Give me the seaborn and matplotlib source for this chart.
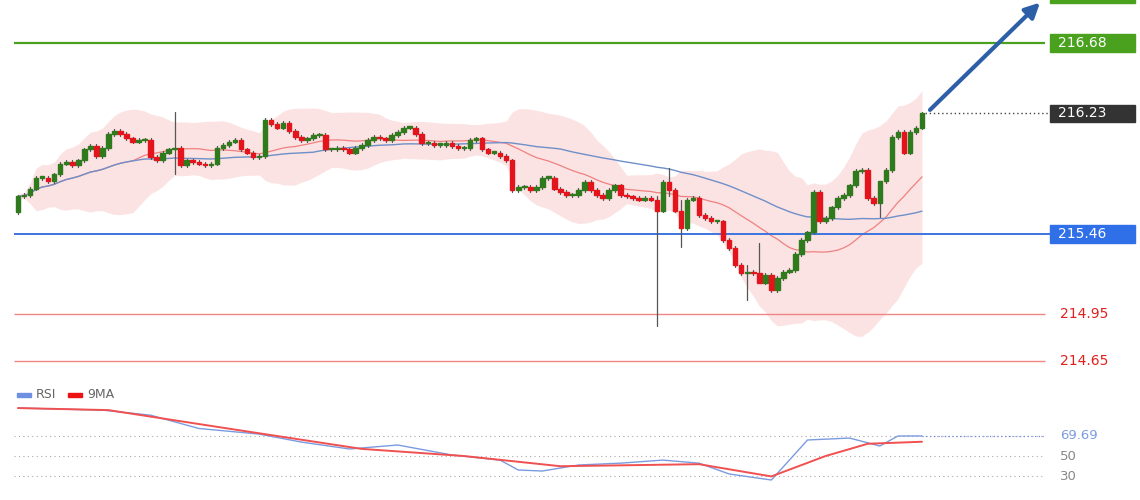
import numpy as np
import pandas as pd
import matplotlib.pyplot as plt
import seaborn as sns
from matplotlib.patches import Rectangle, FancyArrowPatch

sns.set_style('white')
plt.rcParams['font.family'] = ['DejaVu Sans']

# closing prices, one per candle
closes = [215.70, 215.71, 215.75, 215.82, 215.82, 215.80, 215.84, 215.91, 215.92, 215.90,
          215.93, 216.00, 216.02, 215.96, 216.01, 216.10, 216.12, 216.10, 216.07, 216.05,
          216.06, 216.06, 215.95, 215.93, 215.98, 216.00, 216.01, 215.90, 215.93, 215.92,
          215.91, 215.90, 215.91, 216.01, 216.03, 216.05, 216.06, 216.00, 215.98, 215.95,
          215.96, 216.19, 216.16, 216.14, 216.17, 216.12, 216.08, 216.06, 216.07, 216.09,
          216.09, 216.00, 216.00, 216.01, 216.00, 215.98, 216.01, 216.03, 216.06, 216.08,
          216.07, 216.06, 216.09, 216.11, 216.14, 216.14, 216.10, 216.04, 216.04, 216.03,
          216.03, 216.04, 216.02, 216.01, 216.01, 216.06, 216.07, 216.00,
          215.98, 215.98, 215.96, 215.93, 215.74, 215.76, 215.76, 215.74, 215.76, 215.82,
          215.82, 215.75, 215.73, 215.71, 215.71, 215.74, 215.79, 215.74, 215.71, 215.69,
          215.74, 215.77, 215.71, 215.70, 215.69, 215.68, 215.69, 215.68, 215.61, 215.79,
          215.74, 215.61, 215.50, 215.68, 215.69, 215.58, 215.56, 215.54, 215.54, 215.42,
          215.37, 215.26, 215.21, 215.22, 215.21, 215.15, 215.20, 215.10, 215.18, 215.22,
          215.23, 215.33, 215.42, 215.47, 215.73, 215.54, 215.56, 215.63, 215.69, 215.71,
          215.77, 215.86, 215.87, 215.69, 215.66, 215.80, 215.87, 216.08, 216.11, 215.98,
          216.11, 216.14, 216.23]
first_open = 215.60
# notable wicks: candle index -> (high, low)
wicks = {26: (216.24, 215.84), 106: (215.70, 214.87), 108: (215.88, 215.70),
         110: (215.68, 215.38), 121: (215.26, 215.04), 123: (215.40, 215.15),
         143: (215.71, 215.57)}

levels = [216.68, 216.23, 215.46, 214.95, 214.65]

rsi_x = [0, 14, 22, 30, 40, 47, 55, 63, 72, 80, 83, 87, 93, 100, 107, 113, 118,
         125, 128, 131, 138, 143, 146, 150]
rsi_v = [97, 95, 90, 77, 71.5, 63.7, 56.9, 60.8, 51, 46, 36.3, 35.3, 41.2, 43, 46,
         43, 32.4, 26.5, 46, 65.7, 67.6, 59.8, 69.6, 69.69]
ma_x = [0, 15, 37, 57, 74, 90, 113, 125, 134, 141, 150]
ma_v = [97, 95, 75, 57, 50, 40, 42, 30, 50, 62, 64]

n = len(closes)
df = pd.DataFrame({'idx': np.arange(n), 'close': closes})
df['open'] = [first_open] + closes[:-1]
df['ma20'] = df['close'].rolling(20, min_periods=1).mean()
df['ma50'] = df['close'].rolling(50, min_periods=1).mean()
sd = df['close'].rolling(20, min_periods=2).std().bfill()
df['bb_up'] = df['ma20'] + 2.5 * sd
df['bb_lo'] = df['ma20'] - 2.5 * sd

fig = plt.figure(figsize=(11.4, 5), dpi=100)
ax = fig.add_axes([0, 0.24, 1, 0.76])
ax2 = fig.add_axes([0, 0, 1, 0.24])

sp = (922 - 18) / (n - 1)
xl = (-18 / sp, (1140 - 18) / sp)
def px(p):
    return (p - 18) / sp

ax.fill_between(df['idx'], df['bb_lo'], df['bb_up'], color='#f9c9c9', alpha=0.5, lw=0)
sns.lineplot(data=df, x='idx', y='ma20', ax=ax, color='#f08080', lw=0.9)
sns.lineplot(data=df, x='idx', y='ma50', ax=ax, color='#6f8fc8', lw=1.0)

for i, row in df.iterrows():
    o, c = row['open'], row['close']
    up = c >= o
    col = '#2f7a1c' if up else '#e3141b'
    hi, lo = wicks.get(i, (max(o, c) + 0.012, min(o, c) - 0.012))
    ax.plot([i, i], [lo, hi], color='#555555', lw=0.9, zorder=3)
    h = max(abs(c - o), 0.008)
    ax.add_patch(Rectangle((i - 0.38, min(o, c)), 0.76, h, color=col, zorder=4))

ax.hlines(216.68, px(14), px(1045), color='#4aa11e', lw=1.6)
ax.hlines(215.46, px(14), px(1050), color='#3d74e0', lw=1.4)
ax.hlines([214.95, 214.65], px(14), px(1045), color='#f08585', lw=1.0)
ax.hlines(216.23, n - 1 + 0.5, px(1050), color='#444444', lw=1, ls=(0, (1, 2)))

def box(y, text, col, tcol='white'):
    ax.add_patch(Rectangle((px(1050), y - 0.055), px(1135) - px(1050), 0.11,
                           color=col, zorder=5, clip_on=False))
    ax.text(px(1058), y, text, color=tcol, fontsize=10, va='center', zorder=6)

box(216.68, f'{levels[0]:.2f}', '#4aa11e')
box(216.23, f'{levels[1]:.2f}', '#333333')
box(215.46, f'{levels[2]:.2f}', '#2f6fe8')
box(216.99, '', '#4aa11e')
ax.text(px(1060), 214.95, f'{levels[3]:.2f}', color='#e0201e', fontsize=10, va='center')
ax.text(px(1060), 214.65, f'{levels[4]:.2f}', color='#e0201e', fontsize=10, va='center')

ax.add_patch(FancyArrowPatch((px(928), 216.24), (px(1042), 216.95),
                             arrowstyle='-|>', mutation_scale=22, lw=3,
                             color='#2d5fa8', zorder=6))

ax.set_xlim(*xl)
ax.set_ylim(214.528, 216.954)
ax.axis('off')

# RSI panel
for lv in [69.69, 50, 30]:
    ax2.hlines(lv, px(14), px(1045), color='#aaaaaa', lw=0.8, ls=(0, (1, 3)))
ax2.hlines(69.69, 150, px(1045), color='#6f8fe0', lw=0.9, ls=(0, (1, 2)))
sns.lineplot(x=rsi_x, y=rsi_v, ax=ax2, color='#7b9be0', lw=1)
sns.lineplot(x=ma_x, y=ma_v, ax=ax2, color='#f05050', lw=1.4)
ax2.text(px(1060), 69.69, '69.69', color='#7b9be0', fontsize=9.5, va='center')
ax2.text(px(1060), 50, '50', color='#888888', fontsize=9.5, va='center')
ax2.text(px(1060), 30, '30', color='#888888', fontsize=9.5, va='center')
ax2.add_patch(Rectangle((px(17), 108), px(31) - px(17), 4, color='#6f8fe0'))
ax2.text(px(36), 110, 'RSI', color='#666666', fontsize=9, va='center')
ax2.add_patch(Rectangle((px(68), 108), px(82) - px(68), 4, color='#ee1111'))
ax2.text(px(87), 110, '9MA', color='#666666', fontsize=9, va='center')
ax2.set_xlim(*xl)
ax2.set_ylim(6.9, 124.5)
ax2.axis('off')

fig.savefig('out.png', dpi=100)
